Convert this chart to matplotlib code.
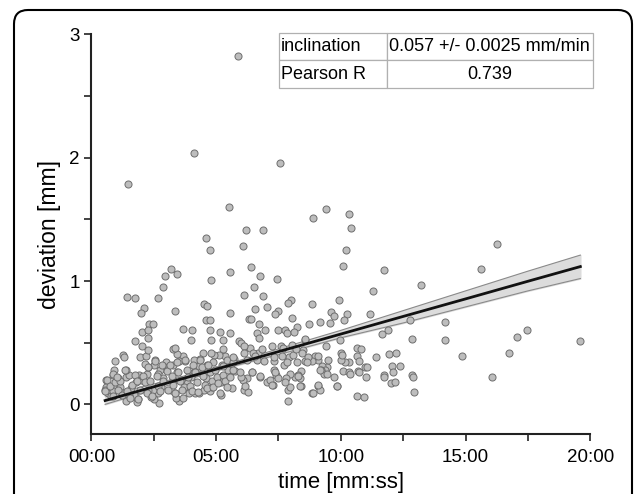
import matplotlib.pyplot as plt
from matplotlib.patches import FancyBboxPatch
from matplotlib.transforms import IdentityTransform
from matplotlib.ticker import MultipleLocator, FixedLocator

plt.rcParams['font.family'] = ['Liberation Sans', 'DejaVu Sans']

# measurements: time in minutes, deviation in mm
time_min = [
    5.88, 4.12, 7.57, 1.45, 5.50, 9.41, 8.88, 10.31, 10.42, 6.19, 6.87, 4.58, 16.24, 6.06, 10.20, 4.76,
    10.10, 15.60, 11.73, 3.18, 3.45, 2.95, 5.54, 6.40, 6.74, 7.46, 4.79, 13.22, 2.87, 6.53, 11.27, 6.11,
    1.43, 1.74, 2.65, 6.86, 8.00, 7.88, 8.84, 9.93, 4.51, 4.64, 7.04, 6.57, 7.49, 3.34, 2.12, 1.97,
    5.55, 7.36, 11.16, 10.23, 9.59, 9.74, 12.78, 14.17, 10.13, 9.17, 9.57, 6.32, 6.40, 4.58, 4.77, 8.05,
    8.73, 2.30, 2.48, 6.73, 8.26, 7.49, 7.78, 3.68, 4.04, 4.76, 6.95, 11.89, 17.46, 2.02, 2.28, 5.15,
    5.55, 6.63, 7.83, 8.14, 11.63, 17.05, 2.26, 5.26, 6.73, 1.74, 3.99, 4.79, 9.98, 12.87, 14.18, 19.59,
    5.90, 5.98, 9.40, 2.02, 16.73, 11.92, 12.21, 14.87, 16.04, 12.92, 12.38, 12.05, 12.87, 12.90, 11.73, 11.73,
    12.02, 12.17, 12.08, 11.42, 10.63, 10.91, 10.63, 10.80, 10.63, 10.73, 10.67, 10.96, 11.06, 11.00, 10.72, 10.31,
    10.18, 10.02, 10.02, 10.07, 10.31, 10.36, 9.72, 9.84, 9.45, 9.25, 9.38, 9.19, 9.32, 9.45, 9.10, 9.16,
    8.86, 9.07, 8.96, 8.86, 8.58, 8.47, 8.57, 8.40, 8.36, 8.27, 8.40, 8.18, 7.98, 7.82, 7.90, 7.90,
    7.95, 7.77, 7.74, 7.93, 8.10, 8.03, 8.22, 7.61, 7.33, 7.31, 7.41, 7.49, 7.28, 7.04, 6.77, 6.45,
    6.65, 6.67, 6.35, 6.11, 6.11, 6.24, 6.08, 6.12, 6.27, 6.01, 5.60, 5.55, 5.72, 5.34, 5.26, 5.11,
    5.21, 5.21, 5.21, 4.90, 4.80, 4.89, 4.64, 4.48, 4.36, 4.32, 4.12, 4.10, 3.99, 3.84, 3.92, 4.15,
    4.32, 4.53, 4.76, 4.84, 4.61, 3.75, 3.66, 3.50, 3.44, 3.27, 3.37, 3.26, 3.44, 3.29, 3.58, 3.70,
    3.53, 3.40, 3.37, 3.18, 2.98, 2.85, 2.75, 2.56, 2.49, 2.65, 2.85, 2.78, 2.65, 2.69, 2.52, 2.39,
    2.48, 2.26, 2.23, 2.26, 2.13, 1.95, 2.18, 2.26, 1.89, 2.00, 1.79, 1.87, 1.81, 1.71, 1.51, 1.38,
    1.58, 1.38, 1.51, 1.38, 1.25, 1.32, 0.94, 0.90, 0.85, 1.06, 1.14, 1.21, 1.00, 0.57, 0.60, 0.54,
    0.67, 0.77, 0.85, 0.88,
    0.61, 0.55, 0.75, 0.88, 0.95, 1.08, 1.15, 1.21, 0.88, 1.01, 1.35, 1.42, 1.55, 1.62, 1.75, 1.82,
    1.95, 1.88, 2.08, 2.15, 2.22, 2.28, 2.35, 2.42, 2.55, 2.62, 2.68, 2.75, 2.82, 2.88, 3.02, 3.08,
    3.15, 3.22, 3.28, 3.35, 3.42, 3.48, 3.55, 3.62, 3.68, 3.75, 3.82, 3.88, 3.95, 4.02, 4.09, 4.15,
    4.22, 4.29, 4.35, 4.42, 4.49, 4.56, 4.62, 4.69, 4.76, 4.82, 4.89, 4.96, 5.02, 5.09, 5.16, 5.22,
    5.29, 5.36, 5.42, 5.49, 5.56, 5.62, 5.69, 5.76,
    6.49, 6.83, 7.23, 7.70, 8.56, 5.69, 6.23, 6.56, 6.90, 7.30, 7.63, 8.43, 8.70, 9.10, 9.50, 10.03,
    7.83, 8.23, 8.63, 9.17, 5.69, 5.96, 6.76, 7.16, 7.36, 8.30, 5.42, 6.16, 7.23, 8.36, 9.10, 9.83,
    8.90, 5.29, 6.43,
]
deviation_mm = [
    2.82, 2.04, 1.96, 1.79, 1.60, 1.58, 1.51, 1.54, 1.43, 1.41, 1.41, 1.35, 1.30, 1.28, 1.25, 1.25,
    1.12, 1.10, 1.09, 1.10, 1.06, 1.04, 1.07, 1.11, 1.04, 1.02, 1.01, 0.97, 0.95, 0.95, 0.92, 0.89,
    0.87, 0.86, 0.86, 0.88, 0.85, 0.82, 0.81, 0.85, 0.81, 0.80, 0.79, 0.77, 0.76, 0.76, 0.78, 0.74,
    0.74, 0.73, 0.73, 0.73, 0.75, 0.72, 0.68, 0.67, 0.68, 0.67, 0.66, 0.69, 0.69, 0.68, 0.68, 0.70,
    0.65, 0.65, 0.65, 0.65, 0.63, 0.60, 0.60, 0.61, 0.60, 0.60, 0.60, 0.60, 0.60, 0.59, 0.60, 0.59,
    0.58, 0.58, 0.58, 0.59, 0.57, 0.55, 0.54, 0.52, 0.54, 0.51, 0.52, 0.52, 0.52, 0.53, 0.52, 0.51,
    0.51, 0.50, 0.47, 0.47, 0.42, 0.41, 0.42, 0.39, 0.22, 0.10, 0.31, 0.31, 0.24, 0.22, 0.24, 0.22,
    0.17, 0.18, 0.26, 0.38, 0.07, 0.06, 0.46, 0.45, 0.39, 0.35, 0.27, 0.30, 0.30, 0.22, 0.26, 0.34,
    0.34, 0.36, 0.42, 0.27, 0.26, 0.25, 0.22, 0.15, 0.30, 0.31, 0.28, 0.28, 0.25, 0.25, 0.15, 0.12,
    0.09, 0.36, 0.39, 0.35, 0.35, 0.44, 0.52, 0.27, 0.21, 0.24, 0.15, 0.22, 0.25, 0.21, 0.12, 0.03,
    0.14, 0.18, 0.32, 0.38, 0.40, 0.48, 0.45, 0.47, 0.35, 0.28, 0.24, 0.21, 0.16, 0.18, 0.22, 0.26,
    0.36, 0.42, 0.46, 0.47, 0.42, 0.21, 0.20, 0.12, 0.10, 0.22, 0.33, 0.28, 0.37, 0.39, 0.45, 0.40,
    0.21, 0.18, 0.08, 0.40, 0.42, 0.34, 0.32, 0.42, 0.37, 0.31, 0.36, 0.26, 0.22, 0.17, 0.09, 0.09,
    0.09, 0.12, 0.11, 0.14, 0.21, 0.35, 0.39, 0.35, 0.41, 0.45, 0.46, 0.32, 0.26, 0.20, 0.20, 0.14,
    0.03, 0.05, 0.09, 0.12, 0.34, 0.31, 0.28, 0.36, 0.32, 0.25, 0.21, 0.14, 0.09, 0.01, 0.04, 0.06,
    0.12, 0.12, 0.25, 0.30, 0.33, 0.38, 0.39, 0.44, 0.24, 0.20, 0.18, 0.04, 0.02, 0.08, 0.08, 0.03,
    0.13, 0.22, 0.24, 0.28, 0.40, 0.38, 0.35, 0.28, 0.24, 0.21, 0.14, 0.09, 0.19, 0.20, 0.14, 0.12,
    0.09, 0.07, 0.14, 0.11,
    0.20, 0.11, 0.15, 0.07, 0.18, 0.12, 0.19, 0.08, 0.25, 0.22, 0.28, 0.11, 0.05, 0.16, 0.24, 0.19,
    0.12, 0.04, 0.23, 0.18, 0.09, 0.30, 0.19, 0.07, 0.35, 0.23, 0.15, 0.11, 0.32, 0.19, 0.27, 0.12,
    0.32, 0.23, 0.16, 0.09, 0.34, 0.26, 0.19, 0.12, 0.05, 0.36, 0.28, 0.22, 0.15, 0.11, 0.32, 0.26,
    0.18, 0.10, 0.36, 0.30, 0.23, 0.16, 0.13, 0.32, 0.26, 0.19, 0.14, 0.28, 0.22, 0.17, 0.09, 0.32,
    0.24, 0.19, 0.36, 0.28, 0.22, 0.13, 0.34, 0.27,
    0.42, 0.45, 0.47, 0.46, 0.53, 0.38, 0.36, 0.39, 0.35, 0.38, 0.39, 0.42, 0.38, 0.39, 0.36, 0.40,
    0.34, 0.34, 0.34, 0.28, 0.28, 0.26, 0.23, 0.20, 0.26, 0.23, 0.14, 0.15, 0.16, 0.15, 0.16, 0.15,
    0.09, 0.31, 0.26,
]

# linear fit with confidence band
fit_x = [0.55, 3.0, 5.5, 8.0, 10.0, 12.5, 15.0, 17.5, 19.6]
fit_y = [0.031, 0.171, 0.314, 0.456, 0.57, 0.713, 0.855, 0.998, 1.117]
band_lo = [0.00, 0.15, 0.30, 0.43, 0.54, 0.66, 0.79, 0.92, 1.02]
band_hi = [0.07, 0.19, 0.33, 0.48, 0.60, 0.76, 0.92, 1.08, 1.21]

table_rows = [["inclination", "0.057 +/- 0.0025 mm/min"], ["Pearson R", "0.739"]]
xtick_vals = [0, 5, 10, 15, 20]
xtick_labels = ["00:00", "05:00", "10:00", "15:00", "20:00"]

fig = plt.figure(figsize=(6.37, 4.94), dpi=100)
ax = fig.add_axes([0.1435, 0.1215, 0.7832, 0.8091])

ax.fill_between(fit_x, band_lo, band_hi, color="#dcdcdc", zorder=1)
ax.plot(fit_x, band_lo, color="#8a8a8a", lw=0.8, zorder=1)
ax.plot(fit_x, band_hi, color="#8a8a8a", lw=0.8, zorder=1)
ax.scatter(time_min, deviation_mm, s=26, facecolor="#bdbdbd", edgecolor="#6e6e6e", linewidths=0.7, zorder=2)
ax.plot(fit_x, fit_y, color="#111111", lw=2.0, zorder=3)

ax.set_xlim(0, 20)
ax.set_ylim(-0.24, 3)
ax.xaxis.set_major_locator(FixedLocator(xtick_vals))
ax.set_xticklabels(xtick_labels)
ax.xaxis.set_minor_locator(MultipleLocator(2.5))
ax.yaxis.set_major_locator(FixedLocator([0, 1, 2, 3]))
ax.yaxis.set_minor_locator(MultipleLocator(0.5))
ax.tick_params(which="both", direction="out", width=1.2, color="#222222", labelsize=13.5)
ax.tick_params(which="major", length=5)
ax.tick_params(which="minor", length=5)
ax.tick_params(axis="x", pad=6)
ax.set_xlabel("time [mm:ss]", fontsize=16, labelpad=4)
ax.set_ylabel("deviation [mm]", fontsize=16.5, labelpad=6)
ax.spines['right'].set_color('none')
ax.spines['top'].set_color('none')
ax.spines['left'].set_linewidth(1.5)
ax.spines['bottom'].set_linewidth(1.5)
ax.spines['left'].set_color('#222222')
ax.spines['bottom'].set_color('#222222')

tbl = ax.table(cellText=table_rows, colWidths=[0.344, 0.656], bbox=[0.376, 0.866, 0.629, 0.137])
tbl.auto_set_font_size(False)
tbl.set_fontsize(13)
tbl.set_zorder(5)
for (r, c), cell in tbl.get_celld().items():
    cell.set_edgecolor("#b0b0b0")
    cell.set_linewidth(0.9)
    cell.set_facecolor("white")
    cell.get_text().set_ha("left" if c == 0 else "center")
    if c == 0:
        cell.PAD = 0.02

# rounded frame around the figure
frame = FancyBboxPatch((14, -20), 618, 504, boxstyle="round,pad=0,rounding_size=14",
                       transform=IdentityTransform(), fill=False, edgecolor="black", lw=1.5)
fig.patches.append(frame)

fig.savefig("out.png", dpi=100)
